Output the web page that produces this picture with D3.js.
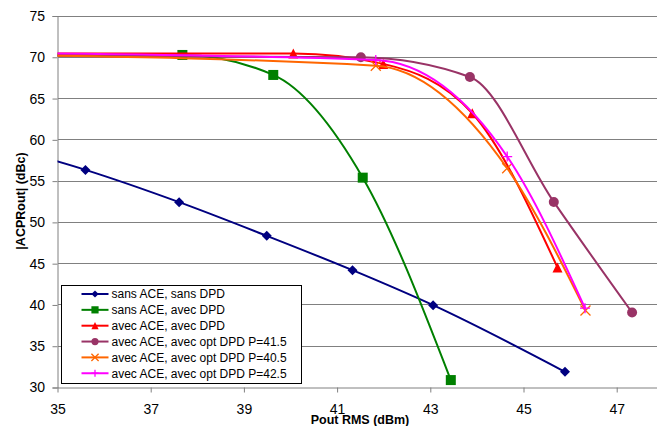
<!DOCTYPE html>
<html><head><meta charset="utf-8">
<script src="https://cdn.jsdelivr.net/npm/d3@7"></script>
<style>
body{margin:0;background:#fff}
svg{display:block}
text{font-family:"Liberation Sans",Arial,sans-serif;fill:#000}
</style></head>
<body><svg id="chart" width="657" height="426"></svg>
<script>
// ---- data ----
const seriesNames = [
  "sans ACE, sans DPD",
  "sans ACE, avec DPD",
  "avec ACE, avec DPD",
  "avec ACE, avec opt DPD P=41.5",
  "avec ACE, avec opt DPD P=40.5",
  "avec ACE, avec opt DPD P=42.5"
];
const seriesColors = ["#000080", "#008000", "#FF0000", "#993366", "#FF6600", "#FF00FF"];
const seriesMarkers = ["diamond", "square", "triangle", "circle", "x", "plus"];

const sansAceSansDpdX = [33.6, 35.6, 37.61, 39.49, 41.33, 43.06, 45.89];
const sansAceSansDpdY = [59.6, 56.36, 52.45, 48.37, 44.21, 39.97, 31.9];
const sansAceAvecDpdX = [33.7, 37.68, 39.63, 41.55, 43.44];
const sansAceAvecDpdY = [70.2, 70.28, 67.86, 55.42, 30.9];
const avecAceAvecDpdX = [33.5, 40.06, 41.99, 43.9, 45.73];
const avecAceAvecDpdY = [70.45, 70.45, 69.2, 63.22, 44.53];
const optDpd415X = [33.5, 41.51, 43.85, 45.65, 47.33];
const optDpd415Y = [70.2, 70.0, 67.61, 52.48, 39.08];
const optDpd405X = [33.5, 41.83, 44.65, 46.33];
const optDpd405Y = [70.3, 68.98, 56.56, 39.32];
const optDpd425X = [33.5, 41.83, 44.65, 46.32];
const optDpd425Y = [70.55, 69.67, 57.97, 39.61];

const xTicks = [35, 37, 39, 41, 43, 45, 47];
const yTicks = [30, 35, 40, 45, 50, 55, 60, 65, 70, 75];
const xTitle = "Pout RMS (dBm)";
const yTitle = "|ACPRout| (dBc)";

const seriesX = [sansAceSansDpdX, sansAceAvecDpdX, avecAceAvecDpdX, optDpd415X, optDpd405X, optDpd425X];
const seriesY = [sansAceSansDpdY, sansAceAvecDpdY, avecAceAvecDpdY, optDpd415Y, optDpd405Y, optDpd425Y];
const series = seriesNames.map((name, i) => ({
  name, color: seriesColors[i], marker: seriesMarkers[i],
  points: seriesX[i].map((x, j) => ({x, y: seriesY[i][j]}))
}));

// ---- layout ----
const svg = d3.select("#chart");
const mLeft = 57.5, mTop = 16, mBottom = 387.5;
const x = d3.scaleLinear().domain([35, 48]).range([mLeft, mLeft + 13 * 46.6]);
const y = d3.scaleLinear().domain([30, 75]).range([mBottom, mTop]);

svg.append("rect").attr("width", 657).attr("height", 426).attr("fill", "#fff");

svg.append("defs").append("clipPath").attr("id", "plotclip")
  .append("rect").attr("x", mLeft).attr("y", 0).attr("width", 700).attr("height", mBottom + 6);

// gridlines
svg.append("g").selectAll("line").data(yTicks.filter(v => v > 30)).join("line")
  .attr("x1", mLeft).attr("x2", x(48)).attr("y1", d => y(d)).attr("y2", d => y(d))
  .attr("stroke", "#808080").attr("stroke-width", 1).attr("shape-rendering", "crispEdges");

// axes
const yAxis = d3.axisLeft(y).tickValues(yTicks).tickSize(5).tickPadding(7.5);
const gy = svg.append("g").attr("transform", `translate(${mLeft},0)`).call(yAxis);
gy.select(".domain").attr("stroke", "#808080");
gy.selectAll(".tick line").attr("stroke", "#808080");
gy.selectAll("text").attr("font-size", 14).attr("font-family", "Liberation Sans, Arial, sans-serif").attr("fill", "#000");

const xAxis = d3.axisBottom(x).tickValues(xTicks).tickSize(5).tickPadding(12).tickSizeOuter(0);
const gx = svg.append("g").attr("transform", `translate(0,${mBottom})`).call(xAxis);
gx.select(".domain").attr("stroke", "#808080");
gx.selectAll(".tick line").attr("stroke", "#808080");
gx.selectAll("text").attr("font-size", 14).attr("font-family", "Liberation Sans, Arial, sans-serif").attr("fill", "#000");

// axis titles
svg.append("text").attr("x", 360).attr("y", 423.5).attr("text-anchor", "middle")
  .attr("font-size", 12.5).attr("font-weight", "bold").text(xTitle);
svg.append("text").attr("transform", "translate(24.5,201) rotate(-90)").attr("text-anchor", "middle")
  .attr("font-size", 12.5).attr("font-weight", "bold").text(yTitle);

// marker generator
function drawMarker(g, type, color, cx, cy, s) {
  if (type === "diamond") {
    g.append("path").attr("d", `M${cx},${cy - s}L${cx + s},${cy}L${cx},${cy + s}L${cx - s},${cy}Z`).attr("fill", color);
  } else if (type === "square") {
    g.append("rect").attr("x", cx - s).attr("y", cy - s).attr("width", 2 * s).attr("height", 2 * s).attr("fill", color);
  } else if (type === "triangle") {
    g.append("path").attr("d", `M${cx},${cy - s}L${cx + s},${cy + s}L${cx - s},${cy + s}Z`).attr("fill", color);
  } else if (type === "circle") {
    g.append("circle").attr("cx", cx).attr("cy", cy).attr("r", s).attr("fill", color);
  } else if (type === "x") {
    g.append("path").attr("d", `M${cx - s},${cy - s}L${cx + s},${cy + s}M${cx - s},${cy + s}L${cx + s},${cy - s}`).attr("stroke", color).attr("stroke-width", 1.3).attr("fill", "none");
  } else if (type === "plus") {
    g.append("path").attr("d", `M${cx - s},${cy}L${cx + s},${cy}M${cx},${cy - s}L${cx},${cy + s}`).attr("stroke", color).attr("stroke-width", 1.3).attr("fill", "none");
  }
}

// series
const line = d3.line().x(d => x(d.x)).y(d => y(d.y)).curve(d3.curveMonotoneX);
const plot = svg.append("g").attr("clip-path", "url(#plotclip)");
series.forEach(s => {
  plot.append("path").datum(s.points).attr("d", line)
    .attr("fill", "none").attr("stroke", s.color).attr("stroke-width", 2);
  const mg = plot.append("g");
  s.points.forEach(p => drawMarker(mg, s.marker, s.color, x(p.x), y(p.y), 5));
});

// legend
const lg = svg.append("g");
lg.append("rect").attr("x", 61.5).attr("y", 285.5).attr("width", 240).attr("height", 98)
  .attr("fill", "#fff").attr("stroke", "#000").attr("stroke-width", 1);
series.forEach((s, i) => {
  const cy = 294 + i * 15.85;
  lg.append("line").attr("x1", 81.5).attr("x2", 108.5).attr("y1", cy).attr("y2", cy)
    .attr("stroke", s.color).attr("stroke-width", 2);
  drawMarker(lg, s.marker, s.color, 95, cy, 3.6);
  lg.append("text").attr("x", 111.5).attr("y", cy + 4.3).attr("font-size", 12).text(s.name);
});
</script>
</body></html>
